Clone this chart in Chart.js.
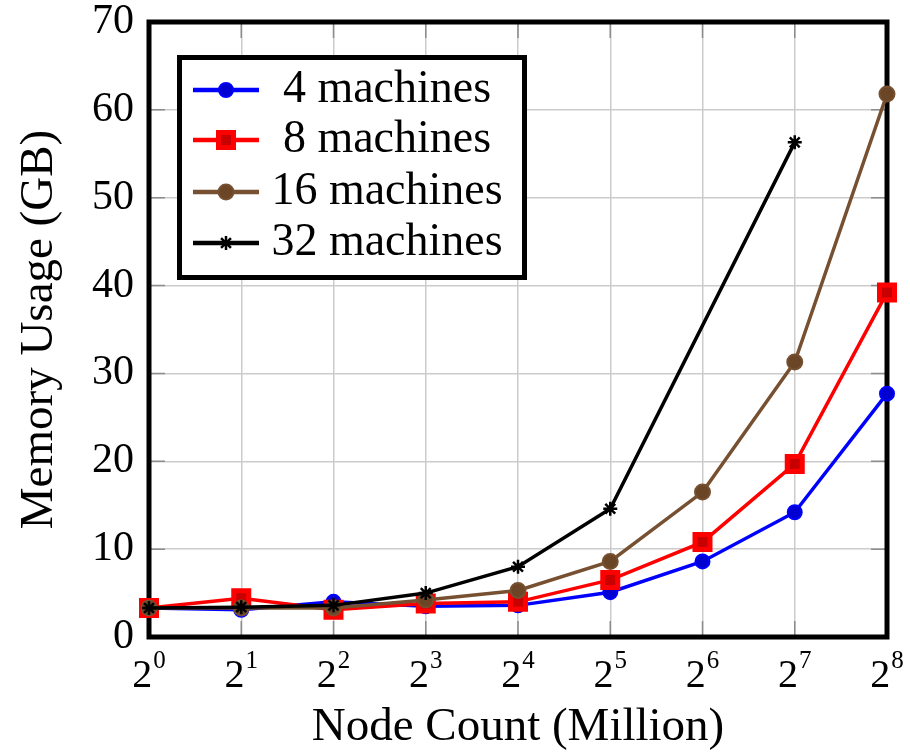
<!DOCTYPE html>
<html><head><meta charset="utf-8">
<script src="https://cdn.jsdelivr.net/npm/chart.js@4.4.0/dist/chart.umd.min.js"></script>
<style>html,body{margin:0;padding:0;background:#fff;}</style>
</head><body>
<canvas id="c" width="910" height="752"></canvas>
<script>
// ---- data ----
const xBase = '2';
const xExponents = ['0','1','2','3','4','5','6','7','8'];
const categories = xExponents.map(e => xBase + '^' + e);
const seriesNames = ['4 machines', '8 machines', '16 machines', '32 machines'];
const mem4  = [3.3, 3.1, 4.0, 3.5, 3.6, 5.1, 8.6, 14.2, 27.7];
const mem8  = [3.3, 4.4, 3.1, 3.8, 4.0, 6.5, 10.8, 19.7, 39.2];
const mem16 = [3.3, 3.3, 3.3, 4.2, 5.3, 8.6, 16.5, 31.3, 61.8];
const mem32 = [3.3, 3.4, 3.6, 5.0, 8.0, 14.6, null, 56.3, null];
const yTickValues = [0, 10, 20, 30, 40, 50, 60, 70];
const xTitle = 'Node Count (Million)';
const yTitle = 'Memory Usage (GB)';

const FONT = '"Liberation Serif", "Times New Roman", serif';
const BROWN = '#765030';

const framePlugin = {
  id: 'frame',
  beforeDatasetsDraw(chart) {
    const {ctx, chartArea: a, scales} = chart;
    ctx.save();
    ctx.strokeStyle = '#8c8c8c';
    ctx.lineWidth = 1.5;
    const L = 16;
    ctx.beginPath();
    scales.y.ticks.forEach((t, i) => {
      const y = scales.y.getPixelForTick(i);
      ctx.moveTo(a.left, y); ctx.lineTo(a.left + L, y);
      ctx.moveTo(a.right, y); ctx.lineTo(a.right - L, y);
    });
    scales.x.ticks.forEach((t, i) => {
      const x = scales.x.getPixelForTick(i);
      ctx.moveTo(x, a.top); ctx.lineTo(x, a.top + L);
      ctx.moveTo(x, a.bottom); ctx.lineTo(x, a.bottom - L);
    });
    ctx.stroke();
    ctx.strokeStyle = '#000';
    ctx.lineWidth = 5;
    ctx.strokeRect(a.left, a.top, a.right - a.left, a.bottom - a.top);
    ctx.restore();
  },
  afterDraw(chart) {
    const {ctx, scales} = chart;
    const xs = scales.x;
    ctx.save();
    ctx.fillStyle = '#000';
    ctx.textBaseline = 'alphabetic';
    ctx.textAlign = 'left';
    xExponents.forEach((e, i) => {
      const x = xs.getPixelForTick(i);
      ctx.font = '40px ' + FONT;
      const wb = ctx.measureText(xBase).width;
      ctx.font = '25px ' + FONT;
      const we = ctx.measureText(e).width;
      const start = x - (wb + we + 1) / 2;
      ctx.font = '40px ' + FONT;
      ctx.fillText(xBase, start, 687);
      ctx.font = '25px ' + FONT;
      ctx.fillText(e, start + wb + 1, 668);
    });
    // legend
    const bx = 179.5, by = 57.5, bw = 345, bh = 220;
    ctx.fillStyle = '#fff';
    ctx.fillRect(bx, by, bw, bh);
    ctx.strokeStyle = '#000';
    ctx.lineWidth = 5;
    ctx.strokeRect(bx, by, bw, bh);
    const rows = [90, 140, 192, 243];
    chart.data.datasets.forEach((ds, i) => {
      const y = rows[i];
      ctx.strokeStyle = ds.borderColor;
      ctx.lineWidth = ds.borderWidth + 1;
      ctx.beginPath();
      ctx.moveTo(193, y); ctx.lineTo(259, y);
      ctx.stroke();
      ctx.fillStyle = ds.pointBackgroundColor;
      ctx.strokeStyle = ds.pointBorderColor;
      ctx.lineWidth = ds.pointBorderWidth;
      Chart.helpers.drawPoint(ctx, {
        pointStyle: ds.pointStyle, radius: ds.pointRadius, rotation: 0,
        borderWidth: ds.pointBorderWidth
      }, 226, y);
      ctx.fillStyle = '#000';
      ctx.font = '46px ' + FONT;
      ctx.textAlign = 'center';
      ctx.textBaseline = 'middle';
      ctx.fillText(ds.label, 387, y);
    });
    ctx.restore();
  }
};

new Chart(document.getElementById('c'), {
  type: 'line',
  data: {
    labels: categories,
    datasets: [
      { label: seriesNames[0], data: mem4, borderColor: '#0000ff', borderWidth: 3.5,
        pointStyle: 'circle', pointRadius: 7, pointBorderWidth: 2,
        pointBackgroundColor: '#0000d0', pointBorderColor: '#0000ff', order: 3 },
      { label: seriesNames[1], data: mem8, borderColor: '#ff0000', borderWidth: 3.5,
        pointStyle: 'rect', pointRadius: 10.6, pointBorderWidth: 5,
        pointBackgroundColor: '#c80000', pointBorderColor: '#ff0000', order: 2 },
      { label: seriesNames[2], data: mem16, borderColor: BROWN, borderWidth: 3.5,
        pointStyle: 'circle', pointRadius: 7.5, pointBorderWidth: 2,
        pointBackgroundColor: '#6a4626', pointBorderColor: BROWN, order: 1 },
      { label: seriesNames[3], data: mem32, borderColor: '#000000', borderWidth: 3.5,
        pointStyle: 'star', pointRadius: 7, pointBorderWidth: 2.5,
        pointBackgroundColor: '#000', pointBorderColor: '#000', order: 0, spanGaps: true }
    ]
  },
  options: {
    responsive: false,
    animation: false,
    devicePixelRatio: 1,
    clip: false,
    layout: { padding: { top: 22, right: 23, left: 0, bottom: 0 } },
    plugins: { legend: { display: false }, tooltip: { enabled: false } },
    elements: { line: { tension: 0 } },
    scales: {
      x: {
        type: 'category',
        offset: false,
        grid: { color: '#cccccc', lineWidth: 1.5, drawTicks: false },
        border: { display: false },
        ticks: { display: false },
        title: { display: true, text: xTitle, color: '#000',
                 font: { family: FONT, size: 47, lineHeight: 1 }, padding: { top: 0, bottom: 1 } },
        afterFit(s) { s.height = 115; s.paddingLeft = 0; s.paddingRight = 0; }
      },
      y: {
        min: 0, max: 70,
        afterBuildTicks(s) { s.ticks = yTickValues.map(v => ({ value: v })); },
        grid: { color: '#cccccc', lineWidth: 1.5, drawTicks: false },
        border: { display: false },
        ticks: { color: '#000', padding: 15, font: { family: FONT, size: 42, lineHeight: 1 } },
        title: { display: true, text: yTitle, color: '#000',
                 font: { family: FONT, size: 47, lineHeight: 1 }, padding: { top: 16, bottom: 0 } },
        afterFit(s) { s.width = 149; s.paddingTop = 0; s.paddingBottom = 0; }
      }
    }
  },
  plugins: [framePlugin]
});
</script>
</body></html>
